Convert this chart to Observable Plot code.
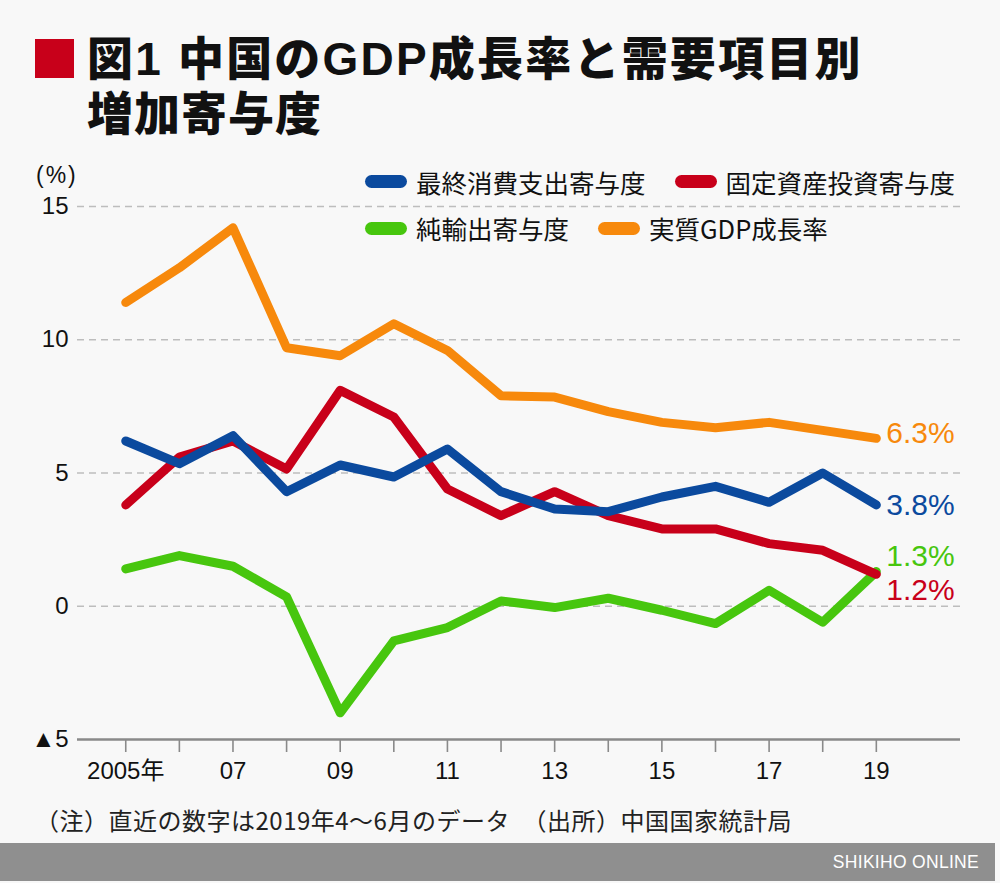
<!DOCTYPE html>
<html>
<head>
<meta charset="utf-8">
<script src="https://cdn.jsdelivr.net/npm/d3@7"></script>
<script src="https://cdn.jsdelivr.net/npm/@observablehq/plot@0.6"></script>
<style>
  html, body { margin: 0; padding: 0; background: #f8f8f8; }
  #page { position: relative; width: 1000px; height: 883px; background: #f8f8f8; overflow: hidden; font-family: "Noto Sans CJK JP", sans-serif; }
  #mark { position: absolute; left: 35px; top: 39px; width: 39px; height: 39px; background: #c8001a; }
  .title { position: absolute; left: 87px; font-family: "Liberation Sans", "Noto Sans CJK JP", sans-serif; font-size: 46px; font-weight: 900; line-height: 52px; height: 52px; color: #111; white-space: nowrap; letter-spacing: 1px; }
  #chart { position: absolute; left: 0; top: 150px; }
  #unit { position: absolute; left: 36px; top: 161px; font-family: "Liberation Sans", "Noto Sans CJK JP", sans-serif; font-size: 23px; letter-spacing: 2px; color: #111; line-height: 28px; }
  .legrow { position: absolute; left: 365px; display: flex; align-items: center; font-size: 25.5px; color: #111; line-height: 30px; white-space: nowrap; }
  .sw { width: 42px; height: 13px; border-radius: 7px; margin-right: 9px; }
  .gap { width: 29px; }
  #caption { position: absolute; left: 35px; top: 805px; font-size: 24px; line-height: 30px; color: #222; white-space: nowrap; letter-spacing: 0.5px; }
  #footer { position: absolute; left: 0; top: 843px; width: 995px; height: 38px; background: #8f8f8f; }
  #footer span { position: absolute; right: 16px; top: 0; line-height: 38px; color: #fff; font-family: "Liberation Sans", sans-serif; font-size: 17.5px; letter-spacing: 0.3px; }
</style>
</head>
<body>
<div id="page">
  <div id="mark"></div>
  <div class="title" style="top:33px; letter-spacing:2.2px">図1 中国のGDP成長率と需要項目別</div>
  <div class="title" style="top:88px">増加寄与度</div>
  <div id="chart"></div>
  <div id="unit">(%)</div>
  <div id="legend"></div>
  <div id="caption">（注）直近の数字は2019年4〜6月のデータ　（出所）中国国家統計局</div>
  <div id="footer"><span>SHIKIHO ONLINE</span></div>
</div>
<script>
// ---- data ----
const years = [2005, 2006, 2007, 2008, 2009, 2010, 2011, 2012, 2013, 2014, 2015, 2016, 2017, 2018, 2019];
const consumption = [6.2, 5.35, 6.4, 4.3, 5.3, 4.85, 5.9, 4.3, 3.65, 3.55, 4.1, 4.5, 3.9, 5.0, 3.8];
const investment  = [3.8, 5.6, 6.2, 5.15, 8.1, 7.1, 4.4, 3.4, 4.3, 3.4, 2.9, 2.9, 2.35, 2.1, 1.2];
const netExports  = [1.4, 1.9, 1.5, 0.35, -4.0, -1.3, -0.8, 0.2, -0.05, 0.3, -0.15, -0.65, 0.6, -0.6, 1.3];
const gdp         = [11.4, 12.7, 14.2, 9.7, 9.4, 10.6, 9.6, 7.9, 7.85, 7.3, 6.9, 6.7, 6.9, 6.6, 6.3];

const seriesNames = ["最終消費支出寄与度", "固定資産投資寄与度", "純輸出寄与度", "実質GDP成長率"];
const seriesColors = ["#0b4a9e", "#c8001a", "#47c60e", "#f7890c"];
const yTicks = [-5, 0, 5, 10, 15];
const gridTicks = [0, 5, 10, 15];
const xTickLabels = ["2005年", "", "07", "", "09", "", "11", "", "13", "", "15", "", "17", "", "19"];

// ---- table for the library ----
const valuesBySeries = [consumption, investment, netExports, gdp];
const drawOrder = [2, 3, 1, 0]; // green, orange, red, blue (blue on top)
const rows = [];
for (const s of drawOrder) {
  years.forEach((yr, i) => rows.push({ year: yr, value: valuesBySeries[s][i], series: seriesNames[s] }));
}
const last = i => [{ year: years[years.length - 1], value: valuesBySeries[i][years.length - 1] }];
const fmtTickY = d => d < 0 ? "▲" + Math.abs(d) : String(d);
const fmtTickX = d => xTickLabels[years.indexOf(d)] ?? "";

const endLabel = (i, dy) => Plot.text(last(i), {
  x: "year", y: "value", text: d => d.value + "%",
  fill: seriesColors[i], fontSize: 30, textAnchor: "start", dx: 10, dy,
  fontFamily: "Liberation Sans, sans-serif"
});

const chart = Plot.plot({
  width: 1000,
  height: 650,
  marginLeft: 77,
  marginRight: 40,
  marginTop: 56,
  marginBottom: 61,
  style: { background: "transparent", fontFamily: "Liberation Sans, Noto Sans CJK JP, sans-serif", color: "#111" },
  x: { domain: [2004.1, 2020.57] },
  y: { domain: [-5, 15] },
  color: { domain: seriesNames, range: seriesColors },
  marks: [
    Plot.ruleY(gridTicks, { stroke: "#bdbdbd", strokeWidth: 1.6, strokeDasharray: "7,5" }),
    Plot.axisY({ ticks: yTicks, tickSize: 0, tickPadding: 9, tickFormat: fmtTickY, fontSize: 24, label: null, fill: "#111" }),
    Plot.axisX({ ticks: years, tickSize: 13, tickPadding: 9, tickFormat: fmtTickX, fontSize: 24, label: null, stroke: "#8a8a8a", strokeWidth: 1.6, fill: "#111" }),
    Plot.ruleY([-5], { stroke: "#8a8a8a", strokeWidth: 2.6 }),
    Plot.line(rows, { x: "year", y: "value", z: "series", stroke: "series", strokeWidth: 9, strokeLinecap: "round", strokeLinejoin: "round" }),
    endLabel(3, -5),
    endLabel(0, 0),
    endLabel(2, -15),
    endLabel(1, 16)
  ]
});
document.getElementById("chart").appendChild(chart);

// ---- legend (HTML) ----
const legend = document.getElementById("legend");
const legendRows = [[0, 1], [2, 3]];
const rowTops = [166.5, 213.3];
legendRows.forEach((r, ri) => {
  const div = document.createElement("div");
  div.className = "legrow";
  div.style.top = rowTops[ri] + "px";
  r.forEach((s, k) => {
    if (k > 0) { const g = document.createElement("span"); g.className = "gap"; div.appendChild(g); }
    const sw = document.createElement("span"); sw.className = "sw"; sw.style.background = seriesColors[s];
    const tx = document.createElement("span"); tx.textContent = seriesNames[s];
    div.appendChild(sw); div.appendChild(tx);
  });
  legend.appendChild(div);
});
</script>
</body>
</html>
